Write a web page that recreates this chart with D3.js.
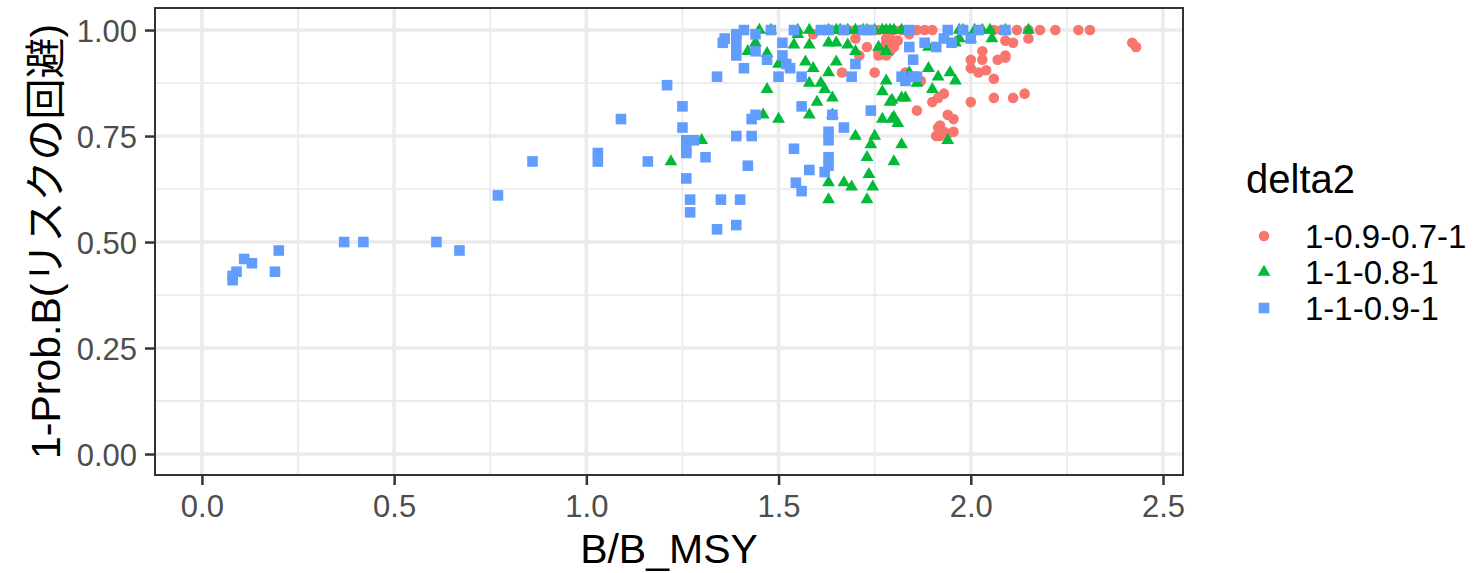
<html>
<head>
  <meta charset="utf-8">
  <script src="https://d3js.org/d3.v7.min.js"></script>
  <style>
    body { margin: 0; background: #fff; }
  </style>
</head>
<body>
<script>
// legend groups
let groups = ["1-0.9-0.7-1", "1-1-0.8-1", "1-1-0.9-1"];
let colors = ["#F8766D", "#00BA38", "#619CFF"];

let xTicks = [0, 0.5, 1.0, 1.5, 2.0, 2.5];
let yTicks = [0, 0.25, 0.5, 0.75, 1.0];

// [B/B_MSY, 1-Prob.B]
let ptsRed = [
  [1.59,0.99],[1.66,1],[1.68,1],[1.70,1],[1.72,1],[1.74,1],[1.76,1],[1.78,1],[1.80,1],[1.82,1],
  [1.84,1],[1.86,1],[1.88,1],[1.90,1],[2.06,1],[2.08,1],[2.12,1],[2.15,1],[2.18,1],[2.22,1],[2.28,1],[2.31,1],
  [1.70,0.98],[1.73,0.96],[1.71,0.94],[1.76,0.94],[1.76,0.95],[1.78,0.97],[1.79,0.98],[1.80,0.96],
  [1.78,0.94],[1.79,0.95],[1.84,0.99],[1.665,0.90],[1.75,0.90],[1.83,0.90],[1.87,0.88],
  [1.78,0.98],[1.80,0.965],[1.77,0.955],[1.81,0.975],
  [2.09,0.975],[2.11,0.97],[2.15,0.98],[2.09,0.935],[2.03,0.95],[2.00,0.93],[2.03,0.93],[2.07,0.93],
  [2.09,0.94],[2.00,0.91],[2.02,0.90],[2.04,0.905],[2.06,0.885],
  [1.93,0.85],[1.915,0.84],[1.90,0.83],[2.00,0.83],[2.06,0.84],[2.11,0.84],[2.14,0.85],
  [1.86,0.81],[1.94,0.80],[1.955,0.79],[1.92,0.775],[1.915,0.77],[1.91,0.75],[1.93,0.76],
  [1.955,0.76],[1.92,0.75],[1.94,0.755],
  [2.42,0.97],[2.43,0.96]
];

let ptsGreen = [
  [1.22,0.69],[1.30,0.74],
  [1.45,1],[1.48,1],[1.55,1],[1.58,1],[1.63,1],[1.65,1],[1.66,1],[1.68,1],[1.70,1],[1.72,1],
  [1.73,1],[1.75,1],[1.77,1],[1.78,1],[1.79,1],[1.80,1],[1.82,1],[1.97,1],[1.98,1],[2.01,1],
  [2.03,1],[2.05,1],[2.09,1],[2.15,1],
  [1.44,0.97],[1.42,0.95],[1.47,0.945],[1.54,0.965],[1.58,0.965],[1.55,0.99],[1.63,0.97],[1.65,0.97],
  [1.68,0.965],[1.70,0.95],[1.76,0.96],[1.50,0.92],[1.57,0.925],[1.59,0.91],[1.63,0.90],[1.65,0.925],
  [1.58,0.875],[1.61,0.875],[1.62,0.86],[1.64,0.84],[1.60,0.83],[1.47,0.86],[1.77,0.855],[1.78,0.88],
  [1.58,0.80],[1.64,0.80],[1.50,0.79],[1.46,0.80],[1.77,0.79],
  [1.70,0.75],[1.75,0.75],[1.74,0.73],[1.73,0.70],[1.80,0.69],[1.735,0.66],[1.63,0.64],[1.67,0.64],
  [1.69,0.63],[1.745,0.63],[1.63,0.60],[1.73,0.60],
  [1.79,0.83],[1.83,0.84],[1.795,0.79],[1.81,0.78],[1.82,0.73],[1.94,0.74],[1.89,0.91],[1.915,0.89],
  [1.946,0.90],[1.96,0.88],[1.90,0.86],[1.84,0.90],[1.86,0.875],
  [1.97,0.98],[2.00,0.98],[2.055,0.98],[1.96,0.97],[1.89,0.96],[1.78,0.95],[1.795,0.835],[1.82,0.84],[1.80,0.795]
];

let ptsBlue = [
  [0.08,0.41],[0.08,0.42],[0.09,0.43],[0.11,0.46],[0.13,0.45],[0.19,0.43],[0.20,0.48],[0.37,0.50],
  [0.42,0.50],[0.61,0.50],[0.67,0.48],[0.77,0.61],[0.86,0.69],[1.03,0.71],[1.03,0.69],[1.09,0.79],[1.16,0.69],
  [1.21,0.87],[1.25,0.82],[1.25,0.77],[1.26,0.74],[1.26,0.72],[1.26,0.71],[1.28,0.74],[1.31,0.70],
  [1.26,0.65],[1.27,0.60],[1.27,0.57],[1.34,0.89],[1.34,0.53],[1.35,0.60],[1.39,0.54],[1.40,0.60],
  [1.39,0.75],[1.43,0.75],[1.42,0.68],[1.43,0.79],[1.44,0.80],
  [1.36,0.98],[1.39,0.98],[1.41,1.00],[1.355,0.97],[1.39,0.96],[1.39,0.94],[1.44,0.95],[1.47,0.93],
  [1.41,0.91],[1.48,1.00],[1.51,0.97],[1.51,0.94],[1.52,0.92],[1.53,0.91],[1.50,0.89],[1.56,0.89],
  [1.54,1.00],[1.61,1.00],[1.63,1.00],[1.56,0.82],[1.39,0.99],[1.44,0.99],
  [1.67,1.00],[1.72,1.00],[1.74,1.00],[1.69,0.89],[1.70,0.92],[1.64,0.80],[1.74,0.81],[1.67,0.77],
  [1.63,0.76],[1.63,0.74],[1.63,0.70],[1.63,0.68],[1.62,0.665],[1.58,0.67],[1.54,0.72],[1.545,0.64],[1.56,0.62],
  [1.84,1.00],[1.94,1.00],[1.98,1.00],[2.02,1.00],[2.09,1.00],[1.84,0.96],[1.88,0.97],[1.91,0.96],
  [1.93,0.98],[1.95,0.97],[2.00,0.98],[1.85,0.93],[1.82,0.89],[1.83,0.88],[1.86,0.89],[1.85,0.89]
];

let series = [ptsRed, ptsGreen, ptsBlue];

let canvasW = 1474;
let canvasH = 573;
let pLeft = 155, pRight = 1183, pTop = 8, pBottom = 475;
let font = "'Liberation Sans', Arial, 'Noto Sans CJK JP', sans-serif";

let svg = d3.select("body").append("svg")
  .attr("width", canvasW)
  .attr("height", canvasH)
  .style("background-color", "white");

let x = d3.scaleLinear().domain([-0.122, 2.552]).range([pLeft, pRight]);
let y = d3.scaleLinear().domain([-0.0495, 1.052]).range([pBottom, pTop]);

// minor grid
let xMinor = [0.25, 0.75, 1.25, 1.75, 2.25];
let yMinor = [0.125, 0.375, 0.625, 0.875];
svg.selectAll(".xminor").data(xMinor).enter().append("line")
  .attr("x1", d => x(d)).attr("x2", d => x(d))
  .attr("y1", pTop).attr("y2", pBottom)
  .attr("stroke", "#EBEBEB").attr("stroke-width", 1.8);
svg.selectAll(".yminor").data(yMinor).enter().append("line")
  .attr("x1", pLeft).attr("x2", pRight)
  .attr("y1", d => y(d)).attr("y2", d => y(d))
  .attr("stroke", "#EBEBEB").attr("stroke-width", 1.8);

// major grid
svg.selectAll(".xmajor").data(xTicks).enter().append("line")
  .attr("x1", d => x(d)).attr("x2", d => x(d))
  .attr("y1", pTop).attr("y2", pBottom)
  .attr("stroke", "#EBEBEB").attr("stroke-width", 3.5);
svg.selectAll(".ymajor").data(yTicks).enter().append("line")
  .attr("x1", pLeft).attr("x2", pRight)
  .attr("y1", d => y(d)).attr("y2", d => y(d))
  .attr("stroke", "#EBEBEB").attr("stroke-width", 3.5);

// point shapes, ggplot style: circle, triangle, square
function shapePath(k) {
  if (k == 0) return d3.symbol().type(d3.symbolCircle).size(Math.PI * 5.3 * 5.3)();
  if (k == 1) return "M0,-7.3L6.4,3.7L-6.4,3.7Z";
  return "M-5.3,-5.3H5.3V5.3H-5.3Z";
}

series.forEach((pts, k) => {
  svg.append("g").selectAll("path")
    .data(pts)
    .enter()
    .append("path")
    .attr("d", shapePath(k))
    .attr("transform", d => "translate(" + x(d[0]) + "," + y(d[1]) + ")")
    .attr("fill", colors[k]);
});

// panel border
svg.append("rect")
  .attr("x", pLeft).attr("y", pTop)
  .attr("width", pRight - pLeft).attr("height", pBottom - pTop)
  .attr("fill", "none").attr("stroke", "#333333").attr("stroke-width", 2);

// axes
let xAxis = svg.append("g")
  .attr("transform", "translate(0," + (pBottom + 1) + ")")
  .call(d3.axisBottom(x).tickValues(xTicks).tickFormat(d3.format(".1f")).tickSize(9).tickPadding(10));
let yAxis = svg.append("g")
  .attr("transform", "translate(" + (pLeft - 1) + ",0)")
  .call(d3.axisLeft(y).tickValues(yTicks).tickFormat(d3.format(".2f")).tickSize(9).tickPadding(8));

[xAxis, yAxis].forEach(a => {
  a.select(".domain").remove();
  a.selectAll("line").attr("stroke", "#333333").attr("stroke-width", 2.5);
  a.selectAll("text")
    .attr("fill", "#4D4D4D")
    .attr("font-family", font)
    .attr("font-size", "31px");
});
yAxis.selectAll("text").attr("dy", "0.36em");

// axis titles
svg.append("text")
  .attr("x", (pLeft + pRight) / 2)
  .attr("y", 563)
  .attr("text-anchor", "middle")
  .attr("font-family", font)
  .attr("font-size", "41px")
  .attr("fill", "black")
  .text("B/B_MSY");

svg.append("text")
  .attr("transform", "translate(60," + ((pTop + pBottom) / 2) + ") rotate(-90)")
  .attr("text-anchor", "middle")
  .attr("font-family", font)
  .attr("font-size", "41px")
  .attr("fill", "black")
  .text("1-Prob.B(リスクの回避)");

// legend
svg.append("text")
  .attr("x", 1246)
  .attr("y", 193)
  .attr("font-family", font)
  .attr("font-size", "40px")
  .attr("fill", "black")
  .text("delta2");

let legend = svg.selectAll(".leg")
  .data(groups)
  .enter()
  .append("g")
  .attr("transform", (d, i) => "translate(1264," + (236 + i * 36) + ")");

legend.append("path")
  .attr("d", (d, i) => shapePath(i))
  .attr("fill", (d, i) => colors[i]);

legend.append("text")
  .attr("x", 41)
  .attr("y", 12)
  .attr("font-family", font)
  .attr("font-size", "33px")
  .attr("fill", "black")
  .text(d => d);
</script>
</body>
</html>
